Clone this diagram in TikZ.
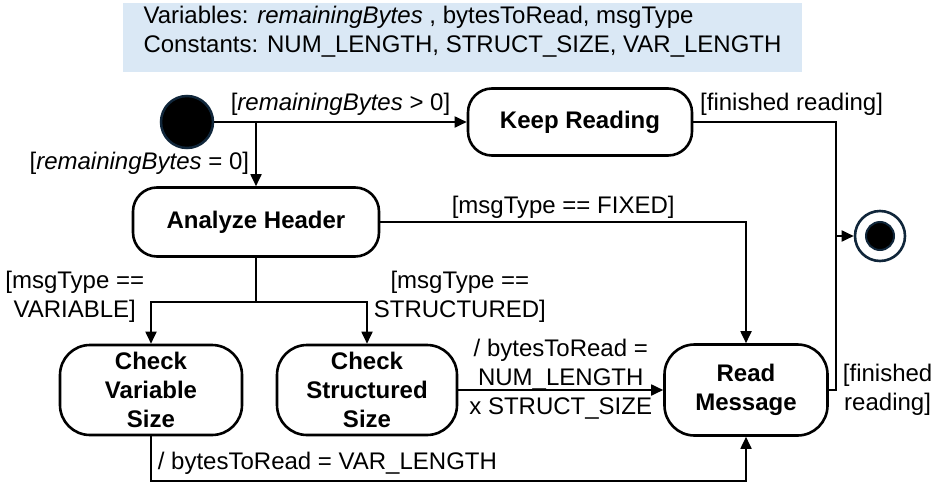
\documentclass[tikz,border=0pt]{standalone}
\usepackage{fontspec}
\setmainfont{Liberation Sans}
\usetikzlibrary{arrows.meta}
\definecolor{notefill}{HTML}{DAE8F5}
\definecolor{dotline}{HTML}{10263A}

\begin{document}
\begin{tikzpicture}%
[x=10pt,y=-10pt,>={Triangle[length=12pt,width=11pt]},
every node/.style={font=\fontsize{24}{29}\selectfont,inner sep=0pt},
state/.style={rectangle,draw=black,line width=2.6pt,rounded corners=24pt,
font=\fontsize{24}{29}\selectfont\bfseries,align=center},
guard/.style={align=center,inner sep=6pt},
trans/.style={line width=1.8pt}]
\useasboundingbox (0,0) rectangle (93.3,48.7);
\node (vars) at (46.25,3.75) [fill=notefill, minimum width=679pt,
minimum height=69pt, text depth=16pt, align=left]
{Variables: \textit{remainingBytes} , bytesToRead, msgType\\
Constants: NUM\_LENGTH, STRUCT\_SIZE, VAR\_LENGTH};
\node (start) at (18.7,12.2) [circle, fill=black, draw=dotline, line width=2.5pt,
minimum size=52pt] {};
\node (keep) at (58,12.2) [state, minimum width=224pt, minimum height=67pt]
{Keep Reading};
\node (analyze) at (25.6,22.2) [state, minimum width=246pt, minimum height=69pt]
{Analyze Header};
\node (checkvar) at (15.1,39) [state, rounded corners=30pt, minimum width=182pt,
minimum height=90pt] {Check\\Variable\\Size};
\node (checkstruct) at (36.7,39) [state, rounded corners=30pt, minimum width=180pt,
minimum height=90pt] {Check\\Structured\\Size};
\node (read) at (74.6,39) [state, rounded corners=30pt, minimum width=163pt,
minimum height=91pt] {Read\\Message};
\node (final) at (88,23.6) [circle, draw=dotline, fill=white, line width=2.6pt,
minimum size=50pt] {};
\node (finaldot) at (final) [circle, fill=black, draw=dotline, line width=2pt,
minimum size=28pt] {};
\coordinate (split) at (25.6,12.2);
\coordinate (fork) at (25.6,30.2);
\coordinate (join) at (83.6,23.6);
\draw [->,trans] (start.east) -- node[guard,above]
{[\textit{remainingBytes} > 0]} (keep.west);
\draw [->,trans] (split) -- node[guard,left,pos=0.65]
{[\textit{remainingBytes} = 0]} (analyze.north);
\draw [trans] (keep.east) -| node[guard,above right,pos=0]
{[finished reading]} (join);
\draw [trans] (read.east) -| node[guard,right,pos=0.5]
{[finished\\reading]} (join);
\draw [->,trans] (join) -- (final);
\draw [->,trans] (analyze.east) -| node[guard,above,pos=0.25,yshift=-3pt]
{[msgType == FIXED]} (read.north);
\draw [trans] (analyze.south) -- (fork);
\draw [->,trans] (fork) -| node[guard,left,pos=0.5,yshift=5pt]
{[msgType ==\\VARIABLE]} (checkvar.north);
\draw [->,trans] (fork) -| node[guard,right,pos=0.5,yshift=5pt]
{[msgType ==\\STRUCTURED]} (checkstruct.north);
\draw [->,trans] (checkstruct.east) -- node[guard,yshift=11pt]
{/ bytesToRead =\\NUM\_LENGTH\\x STRUCT\_SIZE} (read.west);
\draw [->,trans] (checkvar.south) -- ++(0,4.5) -| node[guard,above right,pos=0]
{/ bytesToRead = VAR\_LENGTH} (read.south);
\end{tikzpicture}
\end{document}
